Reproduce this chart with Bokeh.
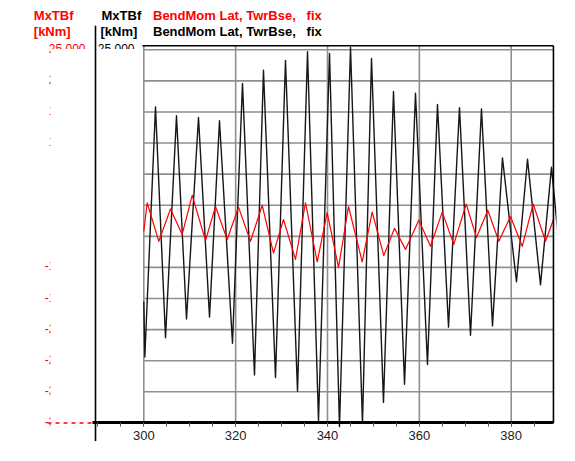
from bokeh.plotting import figure
from bokeh.models import Range1d, SingleIntervalTicker, Label
from bokeh.core.properties import value
from bokeh.embed import file_html
from bokeh.resources import INLINE

# ---------------- data ----------------
black_t = [300.00, 300.22, 302.55, 304.73, 307.12, 309.30, 311.91, 314.31, 316.48, 319.31,
           321.49, 324.10, 326.06, 328.68, 330.85, 333.47, 335.65, 338.04, 340.44, 342.61,
           345.01, 347.62, 349.58, 352.19, 354.37, 356.77, 359.16, 361.77, 363.95, 366.35,
           368.74, 371.14, 373.53, 375.93, 378.10, 381.15, 383.55, 386.38, 388.77, 391.38]
black_v = [-15500, -24400, 15800, -21300, 14400, -18300, 14100, -18000, 13600, -22200,
           19600, -27300, 21700, -27700, 23300, -29900, 24700, -34600, 24400, -35600,
           25400, -35100, 23600, -31700, 18300, -28800, 18000, -25600, 16200, -19600,
           15700, -20900, 15500, -19400, 7600, -12300, 7400, -12800, 6100, -13900]

red_t = [300.00, 300.74, 303.27, 305.81, 308.36, 310.54, 313.44, 315.61, 318.16, 320.62,
         323.23, 325.78, 328.24, 330.42, 333.03, 335.21, 337.76, 339.93, 342.40, 344.57,
         347.56, 349.73, 352.26, 354.59, 356.98, 359.88, 362.43, 364.98, 367.50, 370.20,
         372.44, 374.91, 377.30, 379.85, 382.40, 384.79, 387.47, 389.21]
red_v = [-4200, 400, -5800, -600, -4700, 1600, -5700, -200, -5500, -300,
         -5800, 0, -7700, -2300, -8700, 400, -9100, -1200, -10000, -200,
         -9100, -1100, -8100, -3700, -7100, -2400, -6600, -1100, -6300, 200,
         -5200, -800, -5800, -1800, -6600, 200, -5800, -2300]

x_major = [300, 320, 340, 360, 380]
y_levels = [25000, 20000, 15000, 10000, 5000, 0, -5000, -10000, -15000,
            -20000, -25000, -30000, -35000]
y_labels = [f"{v:,}".replace(",", " ") for v in y_levels]

x_start, x_end = 300, 389.2          # gridded region of the chart
y_min, y_max = -35000, 25000

# ---------------- layout helpers (pixel geometry) ----------------
W, H = 575, 461
FRAME_H = 458.4
PX300, PXU = 143.3, 4.5925           # pixel of t=300, pixels per second
PY_TOP, PY_BOT = 49.0, 420.0         # pixels of y_max / y_min


def px2x(px):
    return 300 + (px - PX300) / PXU


def py2y(py):
    return y_max - (py - PY_TOP) * (y_max - y_min) / (PY_BOT - PY_TOP)


p = figure(width=W, height=H,
           x_range=Range1d(px2x(0), px2x(556)),
           y_range=Range1d(py2y(FRAME_H), py2y(0)),
           y_axis_location=None,
           min_border_left=0, min_border_right=W - 556,
           min_border_top=0, min_border_bottom=0,
           outline_line_color=None, toolbar_location=None,
           output_backend="svg")
p.xgrid.visible = False
p.ygrid.visible = False
p.background_fill_color = "white"
p.border_fill_color = "white"

# clipped value labels on the left (red and black)
p.text(x=[px2x(85)] * len(y_levels), y=y_levels, text=y_labels,
       text_color="#ff0000", text_font=value("Liberation Sans"),
       text_font_size="12px", text_align="right", text_baseline="middle",
       y_offset=-1)
p.text(x=[px2x(134)] * len(y_levels), y=y_levels, text=y_labels,
       text_color="black", text_font=value("Liberation Sans"),
       text_font_size="12px", text_align="right", text_baseline="middle",
       y_offset=-1)
p.quad(left=px2x(50), right=px2x(142), top=py2y(48.3), bottom=py2y(FRAME_H + 5),
       fill_color="white", line_color=None)

# grid
y_top_border = py2y(45)
grid_y = y_levels[:-1]
p.segment(x0=[x_start] * len(grid_y), x1=[x_end] * len(grid_y), y0=grid_y, y1=grid_y,
          line_color="#8f8f8f", line_width=1.6)
p.segment(x0=x_major, x1=x_major, y0=[y_min] * len(x_major), y1=[y_top_border] * len(x_major),
          line_color="#8f8f8f", line_width=1.6)

# red dashed axis fragment and left black axis line
p.segment(x0=[px2x(47)], x1=[px2x(91)], y0=[y_min], y1=[y_min],
          line_color="#ff0000", line_width=1.5, line_dash="4 4")
p.segment(x0=[px2x(95)], x1=[px2x(95)], y0=[py2y(25)], y1=[py2y(438)],
          line_color="black", line_width=1.6)

# series
p.line(black_t, black_v, line_color="#161616", line_width=1.4, line_join="round")
p.line(red_t, red_v, line_color="#ff0000", line_width=1.2, line_join="round")

# frame borders (top, right)
p.segment(x0=[px2x(142)], x1=[x_end], y0=[y_top_border], y1=[y_top_border],
          line_color="black", line_width=1.6)
p.segment(x0=[x_end], x1=[x_end], y0=[y_min], y1=[y_top_border],
          line_color="black", line_width=1.6)

# x axis
ax = p.xaxis[0]
ax.fixed_location = y_min
ax.bounds = (px2x(92), x_end)
ax.ticker = SingleIntervalTicker(interval=20, num_minor_ticks=4)
ax.axis_line_width = 3
ax.axis_line_color = "black"
ax.major_tick_in = 0
ax.major_tick_out = 4
ax.minor_tick_in = 0
ax.minor_tick_out = 4
ax.major_tick_line_color = "#555555"
ax.minor_tick_line_color = "#555555"
ax.major_label_text_font = "Liberation Sans"
ax.major_label_text_font_size = "13px"
ax.major_label_text_color = "#222222"
ax.major_label_standoff = 4

# header texts
NB = "\u00a0"
series_name = f"BendMom{NB}Lat,{NB}TwrBse,{NB}{NB}{NB}fix"
titles = [
    (33.3, 14.5, "MxTBf", "#ff0000"),
    (101, 14.5, "MxTBf", "black"),
    (152.5, 14.5, series_name, "#ff0000"),
    (33.3, 31, "[kNm]", "#ff0000"),
    (100, 31, "[kNm]", "black"),
    (152.5, 31, series_name, "black"),
]
for tx, ty, txt, col in titles:
    p.add_layout(Label(x=px2x(tx), y=py2y(ty), text=txt, text_color=col,
                       text_font="Liberation Sans", text_font_style="bold",
                       text_font_size="13px", text_baseline="middle", text_align="left"))

open("out.html", "w").write(file_html(p, INLINE))
